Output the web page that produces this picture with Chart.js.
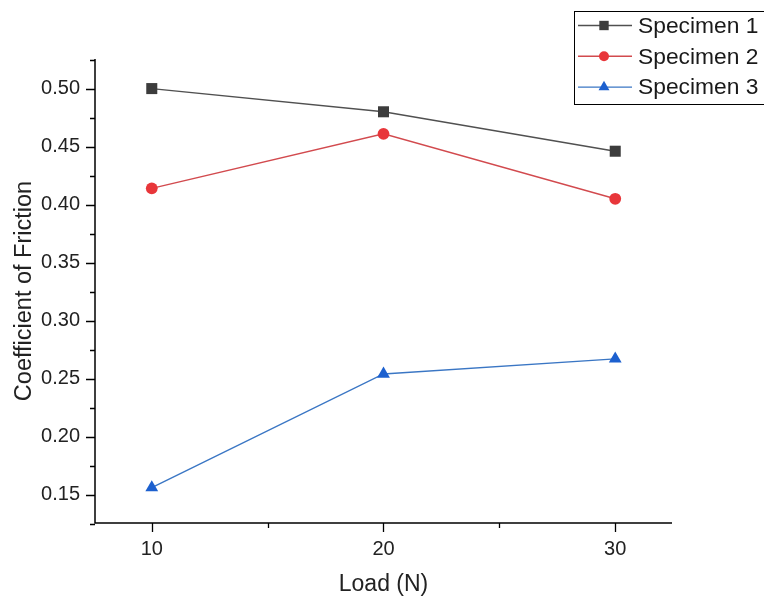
<!DOCTYPE html>
<html>
<head>
<meta charset="utf-8">
<script src="https://cdn.jsdelivr.net/npm/chart.js@4.4.1/dist/chart.umd.min.js"></script>
<style>
html,body{margin:0;padding:0;background:#fff;}
#wrap{width:764px;height:601px;position:relative;}
</style>
</head>
<body>
<div id="wrap"><canvas id="c" width="764" height="601"></canvas></div>
<script>
const loads = [10, 20, 30];
const specimen1 = [0.500, 0.480, 0.446];
const specimen2 = [0.414, 0.461, 0.405];
const specimen3 = [0.156, 0.254, 0.267];
const seriesNames = ['Specimen 1', 'Specimen 2', 'Specimen 3'];
const yTickValues = [0.15, 0.20, 0.25, 0.30, 0.35, 0.40, 0.45, 0.50];
const yMinorValues = [0.125, 0.175, 0.225, 0.275, 0.325, 0.375, 0.425, 0.475, 0.525];
const xMinorValues = [15, 25];
const xTitle = 'Load (N)';
const yTitle = 'Coefficient of Friction';

const FONT = "'Liberation Sans', Arial, sans-serif";

const styles = [
  {line:'#505050', point:'#3c3c3c', shape:'rect', r:7.8},
  {line:'#d24a4e', point:'#e8363a', shape:'circle', r:5.9},
  {line:'#3a76c4', point:'#1c60cf', shape:'triangle', r:7.4}
];
const seriesData = [specimen1, specimen2, specimen3];

const datasets = seriesData.map((vals, i) => ({
  label: seriesNames[i],
  data: loads.map((x, j) => ({x: x, y: vals[j]})),
  borderColor: styles[i].line,
  backgroundColor: styles[i].point,
  pointBackgroundColor: styles[i].point,
  pointBorderColor: styles[i].point,
  pointBorderWidth: 0,
  pointStyle: styles[i].shape,
  pointRadius: styles[i].r,
  pointHoverRadius: styles[i].r,
  borderWidth: 1.4,
  tension: 0
}));

const extrasPlugin = {
  id: 'extras',
  afterDraw(chart) {
    const ctx = chart.ctx;
    const xs = chart.scales.x, ys = chart.scales.y;
    const area = chart.chartArea;
    ctx.save();
    ctx.strokeStyle = '#000';
    ctx.lineWidth = 1.5;
    ctx.beginPath();
    ctx.moveTo(area.left, area.top);
    ctx.lineTo(area.left, area.bottom);
    ctx.lineTo(area.right, area.bottom);
    ctx.stroke();
    ctx.lineWidth = 1.3;
    ctx.beginPath();
    yTickValues.forEach(v => {
      const py = Math.round(ys.getPixelForValue(v)) + 0.5;
      ctx.moveTo(area.left, py); ctx.lineTo(area.left - 9, py);
    });
    yMinorValues.forEach(v => {
      const py = Math.round(ys.getPixelForValue(v)) + 0.5;
      ctx.moveTo(area.left, py); ctx.lineTo(area.left - 5, py);
    });
    loads.forEach(v => {
      const px = Math.round(xs.getPixelForValue(v)) + 0.5;
      ctx.moveTo(px, area.bottom); ctx.lineTo(px, area.bottom + 9);
    });
    xMinorValues.forEach(v => {
      const px = Math.round(xs.getPixelForValue(v)) + 0.5;
      ctx.moveTo(px, area.bottom); ctx.lineTo(px, area.bottom + 5);
    });
    ctx.stroke();

    // legend
    const lx = 574.5, ly = 11.5, lw = 200, lh = 93;
    ctx.lineWidth = 1;
    ctx.strokeStyle = '#000';
    ctx.fillStyle = '#fff';
    ctx.fillRect(lx, ly, lw, lh);
    ctx.strokeRect(lx, ly, lw, lh);
    ctx.font = "22.8px " + FONT;
    ctx.textBaseline = 'middle';
    ctx.textAlign = 'left';
    chart.data.datasets.forEach((ds, i) => {
      const cy = 25.5 + i * 30.8;
      ctx.strokeStyle = ds.borderColor;
      ctx.lineWidth = 1.4;
      ctx.beginPath();
      ctx.moveTo(578, cy); ctx.lineTo(632, cy);
      ctx.stroke();
      ctx.fillStyle = ds.pointBackgroundColor;
      ctx.strokeStyle = ds.pointBackgroundColor;
      Chart.helpers.drawPoint(ctx, {pointStyle: ds.pointStyle, rotation: 0, borderWidth: 0, radius: ds.pointRadius * 0.85}, 604, cy);
      ctx.fillStyle = '#1a1a1a';
      ctx.fillText(ds.label, 638, cy + 1);
    });
    ctx.restore();
  }
};

new Chart(document.getElementById('c'), {
  type: 'line',
  data: {datasets: datasets},
  plugins: [extrasPlugin],
  options: {
    responsive: false,
    animation: false,
    devicePixelRatio: 1,
    layout: {padding: {top: 59, right: 92, left: 0, bottom: 0}},
    plugins: {legend: {display: false}, tooltip: {enabled: false}},
    scales: {
      x: {
        type: 'linear',
        min: 7.55, max: 32.45,
        grid: {display: false, drawTicks: false},
        border: {display: false},
        afterFit: s => { s.height = 78; },
        afterBuildTicks: s => { s.ticks = loads.map(v => ({value: v})); },
        ticks: {
          padding: 14,
          color: '#222',
          font: {family: FONT, size: 20},
          callback: v => String(v)
        },
        title: {
          display: true, text: xTitle, color: '#222',
          font: {family: FONT, size: 23},
          padding: {top: 0, bottom: 3}
        }
      },
      y: {
        type: 'linear',
        min: 0.1255, max: 0.5255,
        grid: {display: false, drawTicks: false},
        border: {display: false},
        afterFit: s => { s.width = 95; },
        afterBuildTicks: s => { s.ticks = yTickValues.map(v => ({value: v})); },
        ticks: {
          padding: 15,
          color: '#222',
          font: {family: FONT, size: 20},
          callback: v => Number(v).toFixed(2)
        },
        title: {
          display: true, text: yTitle, color: '#222',
          font: {family: FONT, size: 23.5},
          padding: {top: 10, bottom: 0}
        }
      }
    }
  }
});
</script>
</body>
</html>
